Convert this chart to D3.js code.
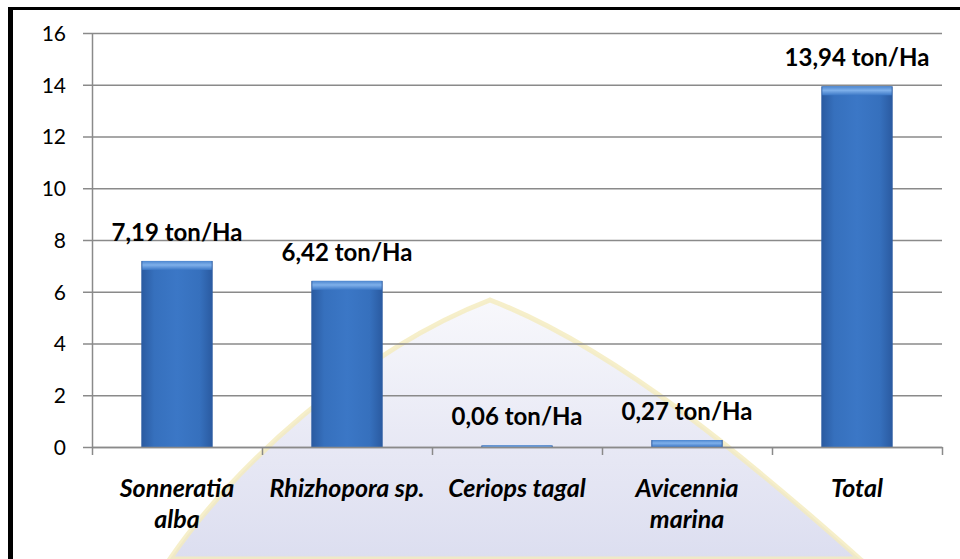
<!DOCTYPE html>
<html>
<head>
<meta charset="utf-8">
<script src="https://d3js.org/d3.v7.min.js"></script>
<style>
	body { margin: 0; background: #fff; }
	svg text { font-family: Lato, "Open Sans", sans-serif; }
</style>
</head>
<body>
<div id="chart"></div>
<script>
// Chart data
var categories = ["Sonneratia\nalba", "Rhizhopora sp.", "Ceriops tagal", "Avicennia\nmarina", "Total"];
var values = [7.19, 6.42, 0.06, 0.27, 13.94];
var yTicks = [0, 2, 4, 6, 8, 10, 12, 14, 16];
var unit = " ton/Ha";

var W = 960, H = 559;
var margin = {top: 33, right: 18, bottom: 112, left: 92},
	width = W - margin.left - margin.right,
	height = H - margin.top - margin.bottom;

var svg = d3.select("#chart").append("svg")
	.attr("width", W)
	.attr("height", H);

// gradients for the bars
var defs = svg.append("defs");
var sideGrad = defs.append("linearGradient").attr("id", "barSide")
	.attr("x1", "0").attr("x2", "1").attr("y1", "0").attr("y2", "0");
sideGrad.append("stop").attr("offset", "0%").attr("stop-color", "#2a5aa0");
sideGrad.append("stop").attr("offset", "18%").attr("stop-color", "#3670bd");
sideGrad.append("stop").attr("offset", "50%").attr("stop-color", "#3b77c6");
sideGrad.append("stop").attr("offset", "82%").attr("stop-color", "#3670bd");
sideGrad.append("stop").attr("offset", "100%").attr("stop-color", "#2a5aa0");
var topGrad = defs.append("linearGradient").attr("id", "barTop")
	.attr("x1", "0").attr("x2", "0").attr("y1", "0").attr("y2", "1");
topGrad.append("stop").attr("offset", "0%").attr("stop-color", "#4c86cf");
topGrad.append("stop").attr("offset", "45%").attr("stop-color", "#7fb0ea");
topGrad.append("stop").attr("offset", "100%").attr("stop-color", "#3b77c6");

// watermark fades in towards the bottom
var wmGrad = defs.append("linearGradient").attr("id", "wmFill")
	.attr("x1", "0").attr("x2", "0").attr("y1", "0").attr("y2", "1");
wmGrad.append("stop").attr("offset", "0%").attr("stop-color", "#e2e3f2").attr("stop-opacity", 0.25);
wmGrad.append("stop").attr("offset", "55%").attr("stop-color", "#e2e3f2").attr("stop-opacity", 0.8);
wmGrad.append("stop").attr("offset", "100%").attr("stop-color", "#dcdef0").attr("stop-opacity", 1);

svg.append("path")
	.attr("d", "M170,559 C230,470 360,350 490,300 C620,350 760,470 860,559 Z")
	.attr("fill", "url(#wmFill)")
	.attr("stroke", "#f4ebbd")
	.attr("stroke-opacity", 0.8)
	.attr("stroke-width", 5);

// frame (left and top edges)
svg.append("rect").attr("x", 8).attr("y", 7).attr("width", 5).attr("height", H - 7).attr("fill", "#000");
svg.append("rect").attr("x", 8).attr("y", 7).attr("width", W - 8).attr("height", 3).attr("fill", "#000");

var chart = svg.append("g")
	.attr("transform", "translate(" + margin.left + "," + margin.top + ")");

var x = d3.scaleBand()
	.domain(categories)
	.range([0, width])
	.paddingInner(0.58)
	.paddingOuter(0.29);

var y = d3.scaleLinear()
	.domain([0, 16])
	.range([height, 0]);

// gridlines
chart.append("g")
	.call(d3.axisLeft(y).tickValues(yTicks).tickSize(-width).tickFormat(""))
	.call(function(g) { g.select(".domain").remove(); })
	.selectAll("line")
	.attr("stroke", "#8a8a8a")
	.attr("stroke-width", 1.5);

// y axis
var yAxis = chart.append("g")
	.call(d3.axisLeft(y).tickValues(yTicks).tickSize(9).tickSizeOuter(0).tickPadding(17));
yAxis.select(".domain").attr("stroke", "#8a8a8a").attr("stroke-width", 1.5);
yAxis.selectAll("line").attr("stroke", "#8a8a8a").attr("stroke-width", 1.5);
yAxis.selectAll("text")
	.attr("font-size", 21)
	.attr("fill", "#000")
	.attr("dy", "0.35em");

// bars
var bars = chart.append("g").selectAll("g")
	.data(values)
	.enter().append("g");

bars.append("rect")
	.attr("x", function(d, i) { return x(categories[i]); })
	.attr("y", function(d) { return y(d); })
	.attr("width", x.bandwidth())
	.attr("height", function(d) { return height - y(d); })
	.attr("fill", "url(#barSide)");

bars.append("rect")
	.attr("x", function(d, i) { return x(categories[i]) + 1; })
	.attr("y", function(d) { return y(d); })
	.attr("width", x.bandwidth() - 2)
	.attr("height", function(d) { return Math.min(9, height - y(d)); })
	.attr("fill", "url(#barTop)");

// x axis with ticks on the category boundaries
var xEdge = d3.scaleLinear().domain([0, categories.length]).range([0, width]);
var xAxis = chart.append("g")
	.attr("transform", "translate(0," + height + ")")
	.call(d3.axisBottom(xEdge).ticks(categories.length).tickSize(8).tickSizeOuter(0).tickFormat(""));
xAxis.select(".domain").attr("stroke", "#8a8a8a").attr("stroke-width", 1.5);
xAxis.selectAll("line").attr("stroke", "#8a8a8a").attr("stroke-width", 1.5);

// value labels
bars.append("text")
	.attr("x", function(d, i) { return x(categories[i]) + x.bandwidth() / 2; })
	.attr("y", function(d) { return y(d) - 20; })
	.attr("text-anchor", "middle")
	.attr("font-size", 24)
	.attr("font-weight", "bold")
	.attr("fill", "#000")
	.text(function(d) { return d3.format(".2f")(d).replace(".", ",") + unit; });

// category labels
var catLabels = chart.append("g").selectAll("text")
	.data(categories)
	.enter().append("text")
	.attr("x", function(d) { return x(d) + x.bandwidth() / 2; })
	.attr("y", height + 50)
	.attr("text-anchor", "middle")
	.attr("font-size", 25)
	.attr("font-weight", "bold")
	.attr("font-style", "italic")
	.attr("fill", "#000");

catLabels.selectAll("tspan")
	.data(function(d) { return d.split("\n").map(function(s) { return {s: s, x: x(d) + x.bandwidth() / 2}; }); })
	.enter().append("tspan")
	.attr("x", function(t) { return t.x; })
	.attr("dy", function(t, i) { return i === 0 ? 0 : 31; })
	.text(function(t) { return t.s; });
</script>
</body>
</html>
